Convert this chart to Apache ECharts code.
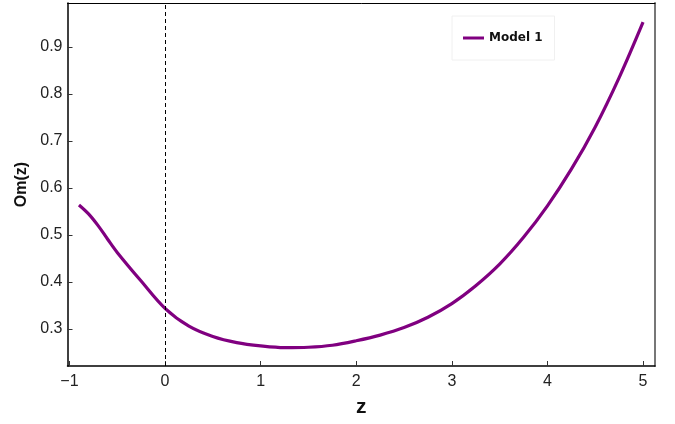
<!DOCTYPE html>
<html lang="en">
<head>
    <meta charset="UTF-8">
    <title>Om(z)</title>
    <script src="https://cdn.jsdelivr.net/npm/echarts@6/dist/echarts.min.js"></script>
    <style>
        html, body { margin: 0; padding: 0; background: #fff; }
        #chart { width: 675px; height: 424px; }
    </style>
</head>
<body>
    <div id="chart"></div>
    <script>
        // 读自图片的数据点
        const zValues = [-0.9, -0.8, -0.7, -0.6, -0.5, -0.25, 0, 0.25, 0.5, 0.75, 1.0, 1.25, 1.5, 1.75, 2.0, 2.25, 2.5, 2.75, 3.0, 3.25, 3.5, 3.75, 4.0, 4.25, 4.5, 4.75, 5.0];
        const omValues = [0.564, 0.545, 0.520, 0.491, 0.463, 0.402, 0.344, 0.306, 0.284, 0.271, 0.264, 0.2603, 0.2612, 0.2655, 0.275, 0.287, 0.303, 0.325, 0.354, 0.392, 0.438, 0.495, 0.562, 0.640, 0.730, 0.835, 0.953];
        const xTicks = [-1, 0, 1, 2, 3, 4, 5];
        const yTicks = [0.3, 0.4, 0.5, 0.6, 0.7, 0.8, 0.9];
        const seriesName = 'Model 1';

        const chart = echarts.init(document.getElementById('chart'));
        const labelFont = { fontFamily: 'Liberation Sans', fontSize: 16, color: '#222' };

        chart.setOption({
            animation: false,
            grid: { left: 67.5, right: 20, top: 3, bottom: 58 },
            legend: {
                data: [seriesName],
                left: 452, top: 16,
                width: 76,
                padding: [16, 12, 16, 11],
                borderColor: '#f0f0f0', borderWidth: 1,
                itemWidth: 21, itemHeight: 3, itemGap: 0,
                icon: 'rect',
                textStyle: { fontFamily: 'DejaVu Sans', fontWeight: 'bold', fontSize: 12, color: '#111' }
            },
            xAxis: [{
                type: 'value', min: -1.02, max: 5.125,
                name: 'z', nameLocation: 'middle', nameGap: 31,
                nameTextStyle: { fontFamily: 'Liberation Sans', fontWeight: 'bold', fontSize: 21, color: '#111' },
                axisLine: { onZero: false, lineStyle: { color: '#000', width: 1.5 } },
                axisTick: { inside: true, length: 5, customValues: xTicks, lineStyle: { color: '#333' } },
                axisLabel: Object.assign({ margin: 8, customValues: xTicks, formatter: v => String(v).replace('-', '\u2212') }, labelFont),
                splitLine: { show: false }
            }, {
                type: 'value', position: 'top', min: -1.02, max: 5.125,
                axisLine: { show: true, onZero: false, lineStyle: { color: '#000', width: 1 } },
                axisTick: { show: false }, axisLabel: { show: false }, splitLine: { show: false }
            }],
            yAxis: [{
                type: 'value', min: 0.2213, max: 0.9936,
                name: 'Om(z)', nameLocation: 'middle', nameGap: 35,
                nameTextStyle: { fontFamily: 'Liberation Sans', fontWeight: 'bold', fontSize: 16, color: '#111' },
                axisLine: { show: true, onZero: false, lineStyle: { color: '#000', width: 1.5 } },
                axisTick: { show: true, inside: true, length: 5, customValues: yTicks, lineStyle: { color: '#333' } },
                axisLabel: Object.assign({ margin: 5, customValues: yTicks, formatter: v => v.toFixed(1) }, labelFont),
                splitLine: { show: false }
            }, {
                type: 'value', position: 'right', min: 0.2213, max: 0.9936,
                axisLine: { show: true, onZero: false, lineStyle: { color: '#777', width: 2 } },
                axisTick: { show: false }, axisLabel: { show: false }, splitLine: { show: false }
            }],
            series: [{
                name: seriesName,
                type: 'line',
                data: zValues.map((z, i) => [z, omValues[i]]),
                smooth: 0.35,
                showSymbol: false,
                lineStyle: { color: '#800080', width: 3.2 },
                itemStyle: { color: '#800080' },
                markLine: {
                    silent: true, symbol: 'none', label: { show: false },
                    lineStyle: { color: '#000', type: [4, 3], width: 1 },
                    data: [{ xAxis: 0 }]
                }
            }]
        });
    </script>
</body>
</html>
